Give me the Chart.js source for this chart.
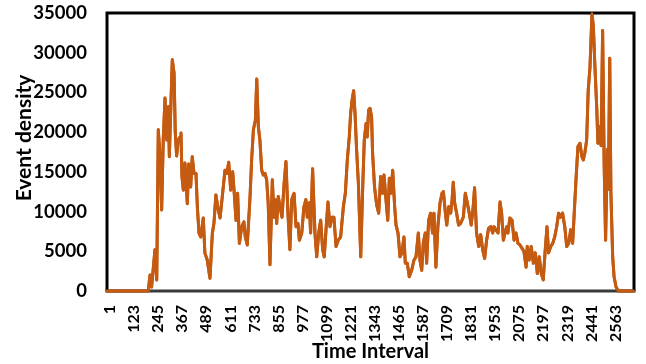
<!DOCTYPE html>
<html><head><meta charset="utf-8">
<script src="https://cdn.jsdelivr.net/npm/chart.js@4/dist/chart.umd.min.js"></script>
<style>html,body{margin:0;padding:0;background:#fff;}canvas{display:block;}</style>
</head><body>
<canvas id="c" width="646" height="364"></canvas>
<script>
// Time interval index of each sampled point
const intervals = [1,210,219,227,244,253,261,270,278,286,295,304,312,317,324,332,341,347,354,362,371,376,381,388,396,408,415,425,433,442,452,459,467,476,489,497,509,523,535,543,553,565,574,587,599,608,618,628,638,646,655,663,672,684,695,702,712,726,734,743,753,760,768,776,785,793,802,810,818,827,839,847,854,861,869,878,888,898,908,918,928,937,949,959,969,976,988,999,1009,1016,1026,1033,1043,1055,1064,1074,1084,1094,1102,1111,1121,1131,1141,1151,1162,1173,1185,1199,1209,1219,1229,1236,1243,1251,1258,1266,1275,1287,1297,1305,1314,1320,1327,1334,1342,1347,1357,1368,1378,1388,1398,1405,1415,1424,1432,1440,1449,1459,1466,1476,1486,1496,1506,1513,1523,1533,1545,1557,1567,1579,1587,1596,1604,1614,1621,1631,1641,1651,1658,1668,1678,1689,1699,1706,1716,1723,1733,1743,1750,1756,1763,1773,1783,1793,1807,1817,1827,1837,1847,1857,1864,1874,1885,1895,1905,1915,1925,1935,1946,1956,1962,1972,1983,1993,2001,2010,2018,2027,2033,2043,2054,2064,2074,2084,2094,2104,2114,2125,2131,2141,2151,2162,2172,2182,2192,2202,2212,2221,2231,2239,2250,2260,2270,2280,2290,2300,2310,2321,2331,2341,2351,2361,2368,2378,2388,2398,2408,2415,2423,2432,2440,2449,2459,2466,2474,2483,2489,2496,2505,2513,2521,2528,2537,2542,2549,2555,2564,2571,2581,2593,2668];
// Event density at each sampled interval
const density = [0,0,2000,500,5200,1400,20300,16900,10200,19000,24300,19000,23200,16900,22800,29100,27400,19900,17000,19000,19400,19900,14400,12700,16100,11000,16000,13100,16900,14800,14800,10600,7300,6800,9200,4800,3900,1600,7300,8500,12100,10200,9200,12300,15200,14800,16200,12700,15000,12300,8900,12300,6000,8100,8700,6800,5800,11900,16500,20300,21500,26700,20700,19000,15200,14600,14800,14000,11100,3300,14000,9300,11500,8500,11900,10600,9300,13300,16300,9800,5200,11500,12300,8100,8500,6400,7300,10600,11500,9300,11100,7300,15400,7300,4300,7300,8900,5200,4300,7700,11200,8100,9300,9300,5600,6400,6800,10600,12300,16500,19400,22400,24000,25200,22400,17800,13600,4300,13100,19000,21100,19400,22800,23000,21900,17400,13100,10800,9800,14400,12300,14600,11500,8900,14200,12300,15200,10600,8300,7300,4300,4800,6800,3500,3500,1800,2600,3900,4300,7300,3900,2600,6000,7300,3500,8900,9800,7300,9800,3000,8100,11100,12300,12500,9800,8300,10600,9800,11500,13700,11100,9800,8300,8500,9300,12300,11100,9800,8300,10600,13000,7300,5600,7100,5200,4100,6400,7900,8100,7300,8100,7700,7300,11200,9800,6400,7300,8100,7300,9200,8900,6400,7300,6000,5800,5400,5000,3000,5600,3900,5600,3500,4800,2200,4300,2200,1400,4800,8100,4800,5600,6000,6800,8100,9800,9300,9800,8100,5600,6000,7700,6000,9300,14000,18200,18600,16900,16500,17400,19000,25300,28200,34900,33300,28200,23200,18600,20700,18300,32800,15600,6400,17800,12800,29300,12300,4300,1800,500,0,0];
const xTickLabels = [1,123,245,367,489,611,733,855,977,1099,1221,1343,1465,1587,1709,1831,1953,2075,2197,2319,2441,2563];
const yTickLabels = [0,5000,10000,15000,20000,25000,30000,35000];
const xTitle = 'Time Interval';
const yTitle = 'Event density';

const points = intervals.map((x, i) => ({x: x, y: density[i]}));

const frame = {
  id: 'plotFrame',
  afterDraw(chart) {
    const {ctx, chartArea: a} = chart;
    ctx.save();
    ctx.lineWidth = 3;
    ctx.strokeStyle = '#000';
    ctx.beginPath();
    ctx.moveTo(a.left, a.bottom);
    ctx.lineTo(a.left, a.top);
    ctx.lineTo(a.right, a.top);
    ctx.lineTo(a.right, a.bottom);
    ctx.stroke();
    ctx.strokeStyle = '#3a3a3a';
    ctx.beginPath();
    ctx.moveTo(a.left - 1.5, a.bottom);
    ctx.lineTo(a.right + 1.5, a.bottom);
    ctx.stroke();
    ctx.restore();
    // line sits on top of the frame, as in the original
    const meta = chart.getDatasetMeta(0);
    if (meta && meta.dataset) meta.dataset.draw(ctx, a);
    ctx.save();
    ctx.translate(24, 138);
    ctx.rotate(-Math.PI / 2);
    ctx.font = 'bold 21px Lato';
    ctx.fillStyle = '#000';
    ctx.textAlign = 'center';
    ctx.textBaseline = 'middle';
    ctx.fillText(yTitle, 0, 0);
    ctx.restore();
  }
};

new Chart(document.getElementById('c'), {
  type: 'line',
  data: {
    datasets: [{
      data: points,
      borderColor: '#C55A11',
      borderWidth: 3,
      borderJoinStyle: 'round',
      borderCapStyle: 'round',
      pointRadius: 0,
      tension: 0,
      fill: false,
      clip: false
    }]
  },
  options: {
    responsive: false,
    devicePixelRatio: 1,
    animation: false,
    events: [],
    layout: {padding: {top: 13, right: 12, left: 0, bottom: 0}},
    plugins: {legend: {display: false}, tooltip: {enabled: false}},
    scales: {
      x: {
        type: 'linear',
        min: 1,
        max: 2672,
        grid: {display: false, drawTicks: false},
        border: {display: false},
        afterBuildTicks(scale) { scale.ticks = xTickLabels.map(v => ({value: v})); },
        afterFit(scale) { scale.height = 73; scale.paddingLeft = 0; scale.paddingRight = 0; },
        ticks: {
          autoSkip: false,
          minRotation: 90,
          maxRotation: 90,
          padding: 14,
          labelOffset: 3,
          color: '#000',
          font: {family: 'Lato', weight: 'bold', size: 16},
          callback: v => String(v)
        },
        title: {
          display: true,
          text: xTitle,
          color: '#000',
          font: {family: 'Lato', weight: 'bold', size: 20, lineHeight: 1.2},
          padding: {top: 0, bottom: 0}
        }
      },
      y: {
        min: 0,
        max: 35000,
        grid: {display: false, drawTicks: false},
        border: {display: false},
        afterBuildTicks(scale) { scale.ticks = yTickLabels.map(v => ({value: v})); },
        afterFit(scale) { scale.width = 107; scale.paddingTop = 0; scale.paddingBottom = 0; },
        ticks: {
          padding: 20,
          color: '#000',
          font: {family: 'Lato', weight: 'bold', size: 18.5},
          callback: v => String(v)
        }
      }
    }
  },
  plugins: [frame]
});
</script>
</body></html>
